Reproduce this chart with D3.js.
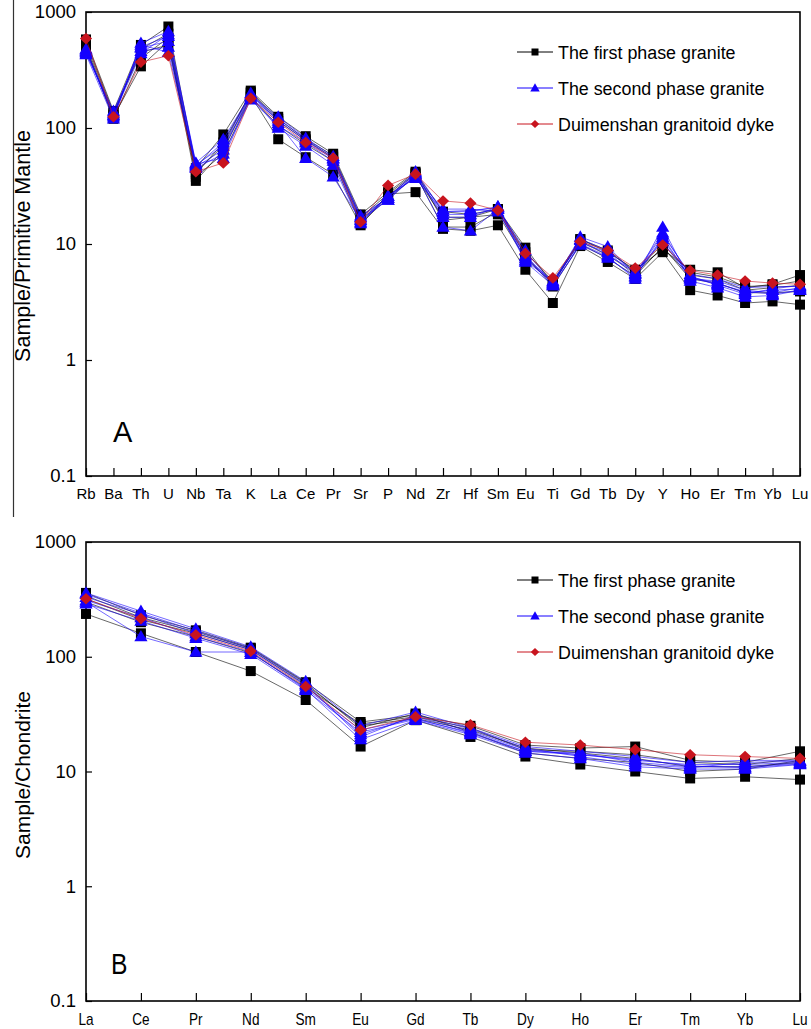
<!DOCTYPE html>
<html><head><meta charset="utf-8">
<script src="https://cdn.jsdelivr.net/npm/d3@7"></script>
<style>
html,body{margin:0;padding:0;background:#fff;}
svg{display:block;font-family:"Liberation Sans",Arial,sans-serif;}
</style></head>
<body><svg id="chart" width="811" height="1029"></svg>
<script>
// ---------- DATA ----------
const elementsA = ["Rb","Ba","Th","U","Nb","Ta","K","La","Ce","Pr","Sr","P","Nd","Zr","Hf","Sm","Eu","Ti","Gd","Tb","Dy","Y","Ho","Er","Tm","Yb","Lu"];
const elementsB = ["La","Ce","Pr","Nd","Sm","Eu","Gd","Tb","Dy","Ho","Er","Tm","Yb","Lu"];
const yTicks = [0.1, 1, 10, 100, 1000];
const seriesNames = ["The first phase granite","The second phase granite","Duimenshan granitoid dyke"];

// Panel A: Sample / Primitive Mantle
const firstPhaseA = [
  [480,125,340,560,35,65,190,80,56,40,14.5,27,28,13.5,13,14.5,6,3.1,9.6,7,5,8.5,4,3.6,3.1,3.2,3.0],
  [580,140,520,750,45,88,210,125,85,60,18,28,42,16,17,20,9.3,4.5,11,8.5,6,9,6,5.7,4.2,4.5,5.4],
  [520,130,480,650,40,75,200,115,78,56,16,26,40,14,14,19,8,4.3,10,7.5,5.3,9.5,5,4.6,3.8,3.8,3.9],
  [500,120,400,600,38,60,185,105,72,52,15,25,38,17,17,18,7.5,4.6,10.5,8,5.6,9.2,5.4,5,4,4.2,4.4],
  [550,135,450,520,42,70,205,120,80,58,17,27,41,19,18,20,8.5,4.8,11,8.8,5.8,10,5.7,5.2,4.3,4.4,4.8]
];
const secondPhaseA = [
  [430,120,540,680,50,80,195,110,55,38,16,24,40,14,13,20,7,4.4,10,7.8,5,14,4.8,4.2,3.5,3.6,4.0],
  [450,130,500,620,48,70,180,120,80,55,17,25,42,19,19,21,8,4.6,11.5,9.5,5.5,12,5.5,5,4.2,4.3,4.3],
  [440,140,460,500,45,60,175,105,75,52,15.5,26,38,20,20,19,7.5,4.8,10.2,8.5,5.3,11,5.2,4.6,3.8,4.0,4.1],
  [470,125,520,450,46,65,200,115,78,54,16.5,24,39,18,18,20,8.8,4.5,10.8,8,5.8,10.5,5,4.8,4.0,3.8,4.2],
  [460,135,490,560,47,75,190,125,82,57,17.5,25,41,17,17,21,7.2,4.7,11,8.8,5.6,12.5,5.3,4.4,3.7,4.1,4.4],
  [480,128,440,640,49,55,185,100,70,48,15,26,37,19,19.5,20.5,7.8,4.4,9.8,7.6,5.2,11.5,5.1,4.5,3.9,3.7,4.0]
];
const dykeA = [
  [590,125,370,420,42,50,180,112,75,55,15.5,32,40,23.5,22.5,19.5,8.3,5.1,10.5,8.8,6.2,9.8,5.9,5.4,4.8,4.6,4.5]
];

// Panel B: Sample / Chondrite
const firstPhaseB = [
  [236,160,110,75,42,16.5,28,20,13.5,11.5,10,8.7,9,8.5],
  [360,230,170,120,60,27,31,25,17,16,16.5,12.5,12,15],
  [320,210,160,115,57,25,29,23,16,14.5,13,11,11,12],
  [300,200,150,108,54,26,30,24,15.5,15,14,12,11.5,13],
  [340,220,165,118,59,24,32,22,14.5,13,12,10,10.5,12.5]
];
const secondPhaseB = [
  [300,150,110,110,52,19,28,21,14.5,13,11,10.5,10.5,11.5],
  [360,250,175,122,61,25,33,24,16.5,15,13.5,12,12.5,12.5],
  [330,235,160,115,56,21,30,22.5,15.5,14,12.5,11.5,11.5,12],
  [310,220,150,110,53,23,29,21.5,15,14.5,12,11,11,11.8],
  [350,240,168,118,58,20,31,23.5,16,13.5,11.5,10.8,12,12.3],
  [290,205,145,105,51,22,28.5,22,15,14,12.8,11.2,10.8,11.6]
];
const dykeB = [
  [320,215,155,112,55,23,30,25.5,18,17,15.5,14,13.5,13]
];

// ---------- STYLE ----------
const styles = [
  {color:"#000000", marker:"square", fill:"#000000"},
  {color:"#1400ff", marker:"triangle", fill:"#1400ff"},
  {color:"#c8141e", marker:"diamond", fill:"#c8141e"}
];

const svg = d3.select("#chart");

// stray vertical line at left
svg.append("line").attr("x1",13.5).attr("x2",13.5).attr("y1",0).attr("y2",517)
  .attr("stroke","#333").attr("stroke-width",1.2);

// marker shapes (r = half-size in px)
function markerPath(type, r){
  if(type==="square") return `M${-r},${-r}H${r}V${r}H${-r}Z`;
  if(type==="triangle") return `M0,${-r*1.1}L${r*1.1},${r*0.8}L${-r*1.1},${r*0.8}Z`;
  return `M0,${-r}L${r*1.05},0L0,${r}L${-r*1.05},0Z`;
}

function drawPanel(opt){
  const {cats, groups, top, bottom, left, right, ylabel, letter, letterY, legendY, xLabelY, xFontSize, narrow} = opt;
  const x = d3.scalePoint().domain(cats).range([left,right]);
  const y = d3.scaleLog().domain([0.1,1000]).range([bottom,top]);
  const g = svg.append("g");

  // frame
  g.append("rect").attr("x",left).attr("y",top).attr("width",right-left).attr("height",bottom-top)
    .attr("fill","none").attr("stroke","#000").attr("stroke-width",1.6);

  // y axis ticks inside
  const yAxis = d3.axisLeft(y).tickValues(yTicks).tickSizeInner(-6).tickSizeOuter(0)
    .tickFormat(d=> d<1? "0.1" : d3.format("d")(d)).tickPadding(10);
  const ya = g.append("g").attr("transform",`translate(${left},0)`).call(yAxis);
  ya.select(".domain").remove();
  ya.selectAll("line").attr("stroke","#000").attr("stroke-width",1.2);
  ya.selectAll("text").attr("font-size",18.5).attr("fill","#000")
    .attr("font-family","'Liberation Sans',Arial,sans-serif");

  // x axis ticks inside (upward)
  const xAxis = d3.axisBottom(x).tickSizeInner(-8).tickSizeOuter(0).tickPadding(0);
  const xa = g.append("g").attr("transform",`translate(0,${bottom})`).call(xAxis);
  xa.select(".domain").remove();
  xa.selectAll("line").attr("stroke","#000").attr("stroke-width",1.2);
  xa.selectAll("text").remove();
  g.selectAll("text.xl").data(cats).enter().append("text")
    .attr("class","xl")
    .attr("x",d=>x(d)).attr("y",xLabelY)
    .attr("text-anchor","middle").attr("dominant-baseline","central")
    .attr("font-size",xFontSize)
    .attr("transform",d=> narrow? `translate(${x(d)},0) scale(0.85,1) translate(${-x(d)},0)` : null)
    .text(d=>d);

  // y label
  g.append("text").attr("transform",`translate(30,${opt.ylabelY}) rotate(-90)`)
    .attr("text-anchor","middle").attr("font-size",opt.ylabelSize).text(ylabel);

  // panel letter
  g.append("text").attr("x",opt.letterX).attr("y",letterY).attr("font-size",29)
    .attr("transform", narrow? `translate(${opt.letterX},0) scale(0.85,1) translate(${-opt.letterX},0)`:null)
    .text(letter);

  // series
  const line = d3.line().x((d,i)=>x(cats[i])).y(d=>y(d));
  groups.forEach((samples,gi)=>{
    const st = styles[gi];
    const sg = g.append("g");
    samples.forEach(s=>{
      sg.append("path").attr("d",line(s)).attr("fill","none")
        .attr("stroke",st.color).attr("stroke-width",0.7).attr("stroke-opacity",0.85);
      const r = st.marker==="square"? 5 : st.marker==="triangle"? 6 : 5.8;
      sg.selectAll(null).data(s).enter().append("path")
        .attr("d",markerPath(st.marker,r))
        .attr("transform",(d,i)=>`translate(${x(cats[i])},${y(d)})`)
        .attr("fill",st.fill);
    });
  });

  // legend
  const lg = g.append("g");
  seriesNames.forEach((name,i)=>{
    const st = styles[i];
    const yy = legendY + i*36;
    lg.append("line").attr("x1",517).attr("x2",553).attr("y1",yy).attr("y2",yy)
      .attr("stroke",st.color).attr("stroke-width",1);
    const r = st.marker==="square"? 3.5 : st.marker==="triangle"? 4.3 : 4;
    lg.append("path").attr("d",markerPath(st.marker,r))
      .attr("transform",`translate(535,${yy})`).attr("fill",st.fill);
    lg.append("text").attr("x",558).attr("y",yy).attr("dominant-baseline","central")
      .attr("font-size",19)
      .attr("transform","translate(558,0) scale(0.94,1) translate(-558,0)")
      .text(name);
  });
}

drawPanel({cats:elementsA, groups:[firstPhaseA,secondPhaseA,dykeA], top:12, bottom:476, left:86, right:800,
  ylabel:"Sample/Primitive Mantle", ylabelY:246, ylabelSize:21.5, letter:"A", letterX:113, letterY:442, legendY:52,
  xLabelY:493, xFontSize:15, narrow:false});
drawPanel({cats:elementsB, groups:[firstPhaseB,secondPhaseB,dykeB], top:542, bottom:1001, left:86, right:800,
  ylabel:"Sample/Chondrite", ylabelY:775, ylabelSize:21, letter:"B", letterX:111, letterY:974, legendY:580,
  xLabelY:1020, xFontSize:16, narrow:true});
</script>
</body></html>
